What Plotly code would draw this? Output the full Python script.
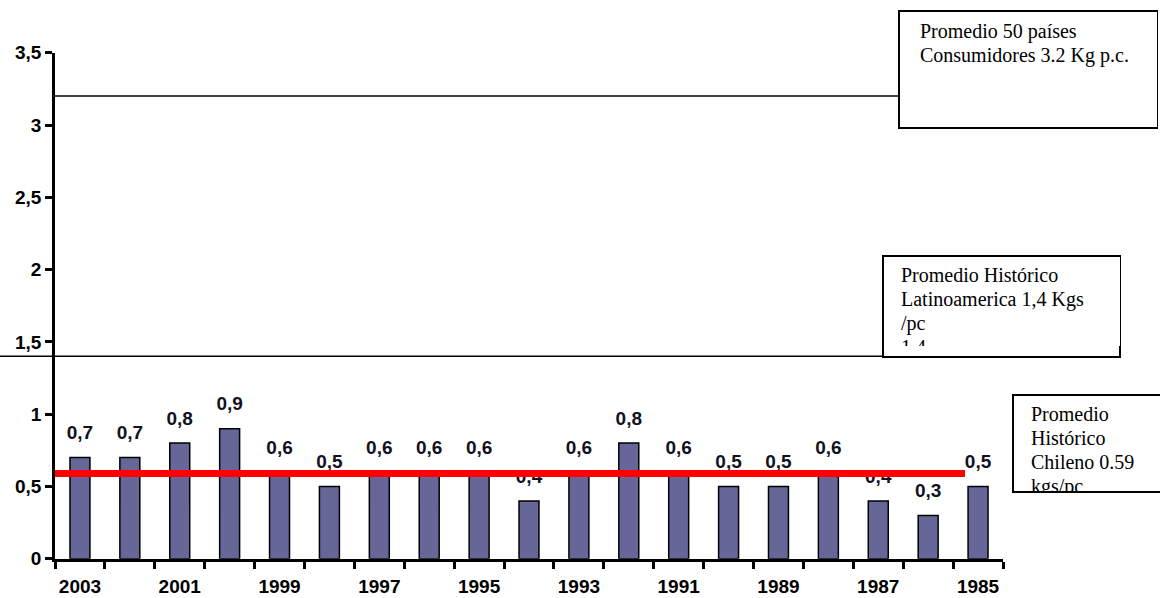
import plotly.graph_objects as go

# ---- data -------------------------------------------------------------
years = [2003, 2002, 2001, 2000, 1999, 1998, 1997, 1996, 1995, 1994,
         1993, 1992, 1991, 1990, 1989, 1988, 1987, 1986, 1985]
consumo = [0.7, 0.7, 0.8, 0.9, 0.6, 0.5, 0.6, 0.6, 0.6, 0.4,
           0.6, 0.8, 0.6, 0.5, 0.5, 0.6, 0.4, 0.3, 0.5]
year_ticks = [2003, 2001, 1999, 1997, 1995, 1993, 1991, 1989, 1987, 1985]

prom_50_paises = 3.2
prom_latinoamerica = 1.4
prom_chile = 0.59

texto_50 = ["Promedio 50 países", "Consumidores 3.2 Kg p.c."]
texto_latam = ["Promedio Histórico", "Latinoamerica 1,4 Kgs", "/pc", "1,4"]
texto_chile = ["Promedio", "Histórico", "Chileno 0.59", "kgs/pc"]

# ---- page geometry (pixels) --------------------------------------------
W, H = 1160, 598


def fx(p):
    return p / W


def fy(p):
    return 1 - p / H


SANS = "Arial, Liberation Sans, sans-serif"
SERIF = "Times New Roman, Liberation Serif, serif"
BOX_FS = 20
TICK_FONT = dict(family=SANS, size=19, color="black", weight="bold")

labels = [f"{v:.1f}".replace(".", ",") for v in consumo]

fig = go.Figure()

fig.add_trace(go.Bar(
    x=years, y=consumo, width=0.4,
    marker=dict(color="#666699", line=dict(color="black", width=1.5)),
    hoverinfo="skip", showlegend=False,
))

# value labels above each bar (transparent markers push the text up)
fig.add_trace(go.Scatter(
    x=years, y=consumo, mode="markers+text", text=labels,
    textposition="top center",
    textfont=dict(family=SANS, size=19, color="#111122", weight="bold"),
    marker=dict(size=20, color="rgba(0,0,0,0)"),
    cliponaxis=False, hoverinfo="skip", showlegend=False,
))

layout_axes = {}
shapes = []

# text boxes: each one gets its own small subplot so overflowing
# lines are clipped at the box edge
boxes = [
    # (lines, left, top, right, bottom, clip_bottom, text_left, first_baseline, line_step)
    (texto_50, 899, 11, 1157, 128, 127, 920, 39, 24),
    (texto_latam, 883, 256, 1120, 357, 346, 901, 283, 24),
    (texto_chile, 1013, 395, 1180, 492, 491, 1031, 422, 24),
]

for i, (lines, x0, y0, x1, y1, cb, tl, b0, step) in enumerate(boxes, start=2):
    xr = min(x1, W)
    layout_axes[f"xaxis{i}"] = dict(domain=[fx(x0 + 1), fx(xr)], range=[x0 + 1, xr],
                                    visible=False, anchor=f"y{i}", fixedrange=True)
    layout_axes[f"yaxis{i}"] = dict(domain=[fy(cb), fy(y0 + 1)], range=[cb, y0 + 1],
                                    visible=False, anchor=f"x{i}", fixedrange=True)
    ys = [b0 + k * step - 0.28 * BOX_FS for k in range(len(lines))]
    fig.add_trace(go.Scatter(
        x=[tl] * len(lines), y=ys, mode="text", text=lines,
        textposition="middle right",
        textfont=dict(family=SERIF, size=BOX_FS, color="black"),
        cliponaxis=True, hoverinfo="skip", showlegend=False,
        xaxis=f"x{i}", yaxis=f"y{i}",
    ))
    shapes.append(dict(type="rect", xref="paper", yref="paper",
                       x0=fx(x0), x1=fx(x1), y0=fy(y1), y1=fy(y0),
                       line=dict(color="black", width=2), fillcolor="white",
                       layer="below"))

ref_lines = [
    dict(type="line", xref="paper", yref="y", x0=fx(55), x1=fx(899),
         y0=prom_50_paises, y1=prom_50_paises,
         line=dict(color="black", width=1.5), layer="below"),
    dict(type="line", xref="paper", yref="y", x0=0, x1=fx(1120),
         y0=prom_latinoamerica, y1=prom_latinoamerica,
         line=dict(color="black", width=1.5), layer="below"),
    dict(type="line", xref="paper", yref="y", x0=fx(55), x1=fx(965),
         y0=prom_chile, y1=prom_chile,
         line=dict(color="#ff0000", width=7), layer="above"),
]

fig.update_layout(
    width=W, height=H,
    margin=dict(l=0, r=0, t=0, b=0),
    template="none",
    paper_bgcolor="white", plot_bgcolor="white",
    separators=",.",
    showlegend=False,
    bargap=0.6,
    shapes=ref_lines + shapes,
    xaxis=dict(
        domain=[fx(55), fx(1003)],
        range=[2003.5, 1984.5],
        tickmode="array", tickvals=year_ticks,
        ticktext=[str(y) for y in year_ticks],
        ticks="outside", ticklen=9, tickcolor="rgba(0,0,0,0)",
        minor=dict(tickmode="array",
                   tickvals=[y + 0.5 for y in years] + [years[-1] - 0.5],
                   ticks="outside", ticklen=7, tickwidth=2.5,
                   tickcolor="black", showgrid=False),
        showline=True, linecolor="black", linewidth=2.5,
        showgrid=False, zeroline=False,
        tickfont=TICK_FONT,
        fixedrange=True,
    ),
    yaxis=dict(
        domain=[fy(558.8), fy(52.7)],
        range=[0, 3.5],
        tickmode="linear", tick0=0, dtick=0.5,
        ticks="outside", ticklen=7, tickwidth=2.5, tickcolor="black",
        showline=True, linecolor="black", linewidth=2.5,
        showgrid=False, zeroline=False,
        tickfont=TICK_FONT,
        fixedrange=True,
    ),
    **layout_axes,
)

fig.write_html("out.html")
